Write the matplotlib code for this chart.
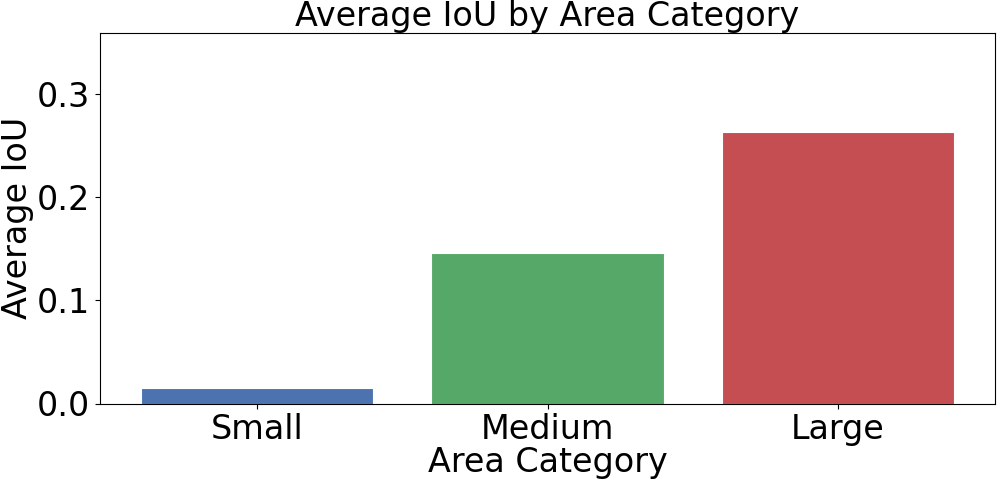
import matplotlib
matplotlib.use("Agg")
import matplotlib.pyplot as plt

categories = ["Small", "Medium", "Large"]
avg_iou = [0.0152, 0.1462, 0.2632]
colors = ["#4C72B0", "#55A868", "#C44E52"]

fig = plt.figure(figsize=(9.97, 4.83), dpi=100)
ax = fig.add_axes([100/997, 1 - 403.5/483, 895/997, (403.5-33)/483])
x = range(len(categories))
ax.bar(x, avg_iou, width=0.8, color=colors, edgecolor="white", linewidth=0.8)
ax.set_ylim(0, 0.3594)
ax.set_xticks(list(x))
ax.set_xticklabels(categories)
ax.set_yticks([0.0, 0.1, 0.2, 0.3])
ax.tick_params(labelsize=24)
ax.set_title("Average IoU by Area Category", fontsize=24, pad=4)
ax.set_xlabel("Area Category", fontsize=24, labelpad=0)
ax.set_ylabel("Average IoU", fontsize=24, labelpad=2)
fig.savefig("out.png", dpi=100)
